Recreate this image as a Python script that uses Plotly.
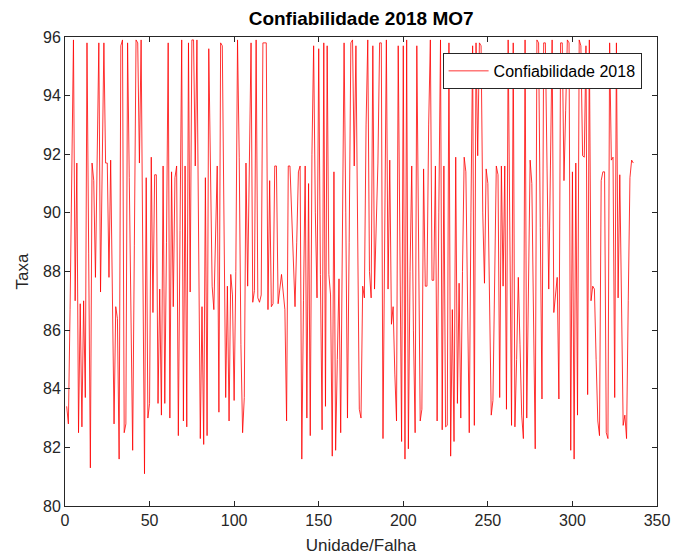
import plotly.graph_objects as go

title_text = "Confiabilidade 2018 MO7"
series_name = "Confiabilidade 2018"
x_label = "Unidade/Falha"
y_label = "Taxa"

seg1 = [83.4, 82.8, 86.7, 91.3, 95.9, 87.0, 91.7, 82.5, 86.9, 82.7,
        87.0, 83.7, 95.8, 88.6, 81.3, 91.7, 91.1, 87.8, 91.8, 95.8,
        87.3, 91.5, 95.8, 91.7, 91.7, 87.8, 91.8, 87.3, 82.8, 86.8,
        86.4, 81.6, 95.7, 95.9, 82.5, 82.8, 95.8, 91.2, 86.6, 81.9,
        88.9, 95.9, 95.8, 91.7]
seg2 = [95.9, 88.5, 81.1, 91.2, 83.0, 83.5, 91.9, 86.6, 91.3, 91.3,
        83.5, 87.4, 83.1, 91.6, 83.5, 89.0, 95.8, 83.0, 91.4, 86.8,
        91.2, 91.6, 82.4, 89.4, 95.9, 82.9, 91.6, 82.7, 95.8, 87.3,
        95.9, 95.9, 91.6, 95.9, 89.0, 82.3, 86.8, 82.1, 91.2, 82.4,
        95.6, 91.0, 87.5, 86.7]
seg3 = [89.2, 91.6, 83.2, 95.8, 95.7, 89.5, 83.7, 87.5, 82.9, 87.9,
        87.2, 83.6, 88.0, 95.9, 91.9, 85.5, 82.5, 83.7, 91.7, 87.5,
        91.5, 95.8, 86.95, 87.35, 95.9, 87.1, 86.95, 87.2, 95.8, 95.8,
        95.8, 86.7, 91.1, 86.8, 86.9, 91.6, 91.6, 86.9, 87.4, 87.9,
        87.3, 86.7, 82.9, 91.6]
seg4 = [91.6, 90.0, 88.0, 86.8, 89.0, 91.4, 91.6, 81.6, 87.0, 91.6,
        83.0, 91.0, 82.4, 92.0, 95.7, 90.0, 87.1, 95.6, 87.9, 82.6,
        95.8, 83.4, 95.7, 87.9, 87.2, 81.7, 91.4, 81.9, 85.0, 87.75,
        82.5, 89.0, 95.8, 90.0, 83.0, 89.0, 95.8, 95.9, 91.6, 95.7,
        90.0, 83.3, 83.0, 87.5]
seg5 = [87.1, 93.0, 95.9, 88.0, 87.1, 95.7, 87.4, 89.5, 91.7, 95.8,
        95.8, 82.3, 89.0, 95.9, 87.4, 91.8, 86.2, 86.8, 84.5, 82.9,
        95.7, 88.0, 82.2, 95.7, 81.6, 95.9, 81.95, 88.0, 91.6, 86.0,
        82.5, 95.7, 88.0, 82.9, 83.3, 91.5, 87.5, 87.5, 93.0, 95.9,
        87.7, 87.7, 91.6, 82.9]
seg6 = [90.0, 95.9, 82.6, 91.6, 82.7, 82.75, 95.8, 81.7, 86.7, 82.2,
        91.9, 83.5, 87.6, 83.0, 88.0, 91.9, 91.4, 86.0, 82.5, 90.0,
        95.7, 82.75, 95.8, 91.95, 95.8, 95.7, 90.0, 87.6, 91.5, 91.0,
        87.0, 83.1, 83.6, 87.0, 91.6, 91.3, 83.7, 91.6, 87.5, 91.6,
        83.3, 95.9, 89.0, 82.75]
seg7 = [95.8, 82.7, 85.0, 87.8, 85.5, 83.1, 82.3, 95.9, 83.0, 87.0,
        91.8, 91.0, 86.5, 81.95, 95.9, 95.8, 89.5, 83.65, 95.8, 95.8,
        91.5, 87.4, 91.6, 95.9, 86.6, 87.2, 87.8, 83.65, 95.8, 95.8,
        91.1, 93.5, 95.9, 95.8, 81.9, 91.4, 81.6, 91.7, 83.1, 95.9,
        95.7, 91.95, 91.9, 95.7]
seg8 = [83.8, 95.9, 87.0, 87.5, 87.4, 85.0, 82.9, 82.4, 91.1, 91.4,
        91.4, 82.5, 82.3, 95.8, 91.8, 91.9, 83.7, 95.8, 87.1, 91.3,
        87.0, 82.75, 83.1, 82.3, 87.0, 91.2, 91.8, 91.7]

values = seg1 + seg2 + seg3 + seg4 + seg5 + seg6 + seg7 + seg8
units = list(range(1, len(values) + 1))

x_ticks = [0, 50, 100, 150, 200, 250, 300, 350]
y_ticks = [80, 82, 84, 86, 88, 90, 92, 94, 96]

axis_col = "#262626"
font_fam = "Liberation Sans, Arial, sans-serif"

fig = go.Figure()
fig.add_trace(go.Scatter(x=units, y=values, mode="lines", name=series_name,
                         line=dict(color="#FF0000", width=0.8)))

fig.update_layout(
    width=675, height=559,
    margin=dict(l=65, r=18, t=37, b=53),
    paper_bgcolor="white", plot_bgcolor="white",
    font=dict(family=font_fam, color=axis_col, size=16),
    title=dict(text="<b>" + title_text + "</b>", x=0.535, xanchor="center",
               y=0.968, yanchor="middle", font=dict(size=19, color="black")),
    showlegend=True,
    legend=dict(x=0.974, y=0.966, xanchor="right", yanchor="top",
                bgcolor="white", bordercolor=axis_col, borderwidth=1,
                font=dict(size=16, color="black"), itemwidth=40,
                tracegroupgap=0),
)
fig.update_xaxes(range=[0, 350], tickvals=x_ticks, ticks="inside", ticklen=5,
                 tickcolor=axis_col, showline=True, linecolor=axis_col,
                 linewidth=1, mirror="ticks", showgrid=False, zeroline=False,
                 tickfont=dict(size=16), automargin=False,
                 title=dict(text=x_label, font=dict(size=17), standoff=10))
fig.update_yaxes(range=[80, 96], tickvals=y_ticks, ticks="inside", ticklen=5,
                 tickcolor=axis_col, showline=True, linecolor=axis_col,
                 linewidth=1, mirror="ticks", showgrid=False, zeroline=False,
                 tickfont=dict(size=16), automargin=False,
                 title=dict(text=y_label, font=dict(size=17), standoff=10))

fig.write_html("out.html")
